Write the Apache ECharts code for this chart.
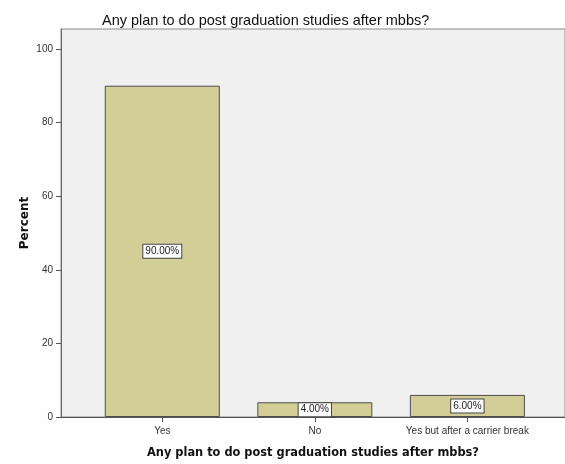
<!DOCTYPE html>
<html>
<head>
<meta charset="utf-8">
<script src="https://cdn.jsdelivr.net/npm/echarts@6/dist/echarts.min.js"></script>
<style>
  html, body { margin: 0; padding: 0; background: #ffffff; }
  #chart { width: 565px; height: 464px; }
</style>
</head>
<body>
<div id="chart"></div>
<script>
// Responses to "Any plan to do post graduation studies after mbbs?"
const categories = ['Yes', 'No', 'Yes but after a carrier break'];
const percents = [90, 4, 6];
const yTicks = [0, 20, 40, 60, 80, 100];

const chart = echarts.init(document.getElementById('chart'), null, { renderer: 'canvas' });

const barData = percents.map((v, i) => [i, v]);
const catPositions = categories.map((_, i) => i);

const titleFont = 'DejaVu Sans, Verdana, sans-serif';
const bodyFont = 'Liberation Sans, Arial, sans-serif';

chart.setOption({
  animation: false,
  backgroundColor: '#ffffff',
  title: {
    text: 'Any plan to do post graduation studies after mbbs?',
    left: 97,
    top: 8,
    textStyle: {
      fontFamily: bodyFont,
      fontSize: 14.5,
      fontWeight: 'normal',
      color: '#111'
    }
  },
  grid: {
    left: 61,
    right: -3,
    top: 29,
    bottom: 47,
    show: true,
    backgroundColor: '#f0f0f0',
    borderColor: '#8a8a8a',
    borderWidth: 1
  },
  xAxis: {
    type: 'value',
    min: -0.664,
    max: 2.64,
    splitLine: { show: false },
    axisLine: { show: true, onZero: false, lineStyle: { color: '#555', width: 1 } },
    axisTick: {
      show: true,
      customValues: catPositions,
      length: 5,
      lineStyle: { color: '#555' }
    },
    axisLabel: {
      customValues: catPositions,
      formatter: (v) => categories[Math.round(v)] || '',
      fontFamily: bodyFont,
      fontSize: 10,
      color: '#333',
      margin: 9
    },
    name: 'Any plan to do post graduation studies after mbbs?',
    nameLocation: 'middle',
    nameGap: 31,
    nameMoveOverlap: false,
    nameTextStyle: {
      fontFamily: titleFont,
      fontSize: 11.4,
      fontWeight: 'bold',
      color: '#111'
    }
  },
  yAxis: {
    type: 'value',
    min: 0,
    max: 105.4,
    splitLine: { show: false },
    axisLine: { show: true, onZero: false, lineStyle: { color: '#666', width: 1 } },
    axisTick: {
      show: true,
      customValues: yTicks,
      length: 5,
      lineStyle: { color: '#555' }
    },
    axisLabel: {
      customValues: yTicks,
      fontFamily: bodyFont,
      fontSize: 10,
      color: '#333',
      margin: 8
    },
    name: 'Percent',
    nameLocation: 'middle',
    nameGap: 30,
    nameMoveOverlap: false,
    nameTextStyle: {
      fontFamily: titleFont,
      fontSize: 12,
      fontWeight: 'bold',
      color: '#111'
    }
  },
  series: [{
    type: 'bar',
    data: barData,
    barWidth: 115,
    itemStyle: {
      color: '#d3ce97',
      borderColor: '#4d4d4d',
      borderWidth: 1
    },
    label: {
      show: true,
      position: 'inside',
      formatter: (p) => p.value[1].toFixed(2) + '%',
      fontFamily: bodyFont,
      fontSize: 10,
      color: '#222',
      backgroundColor: '#ffffff',
      borderColor: '#444',
      borderWidth: 1,
      padding: [2, 2, 1, 2]
    }
  }]
});
</script>
</body>
</html>
